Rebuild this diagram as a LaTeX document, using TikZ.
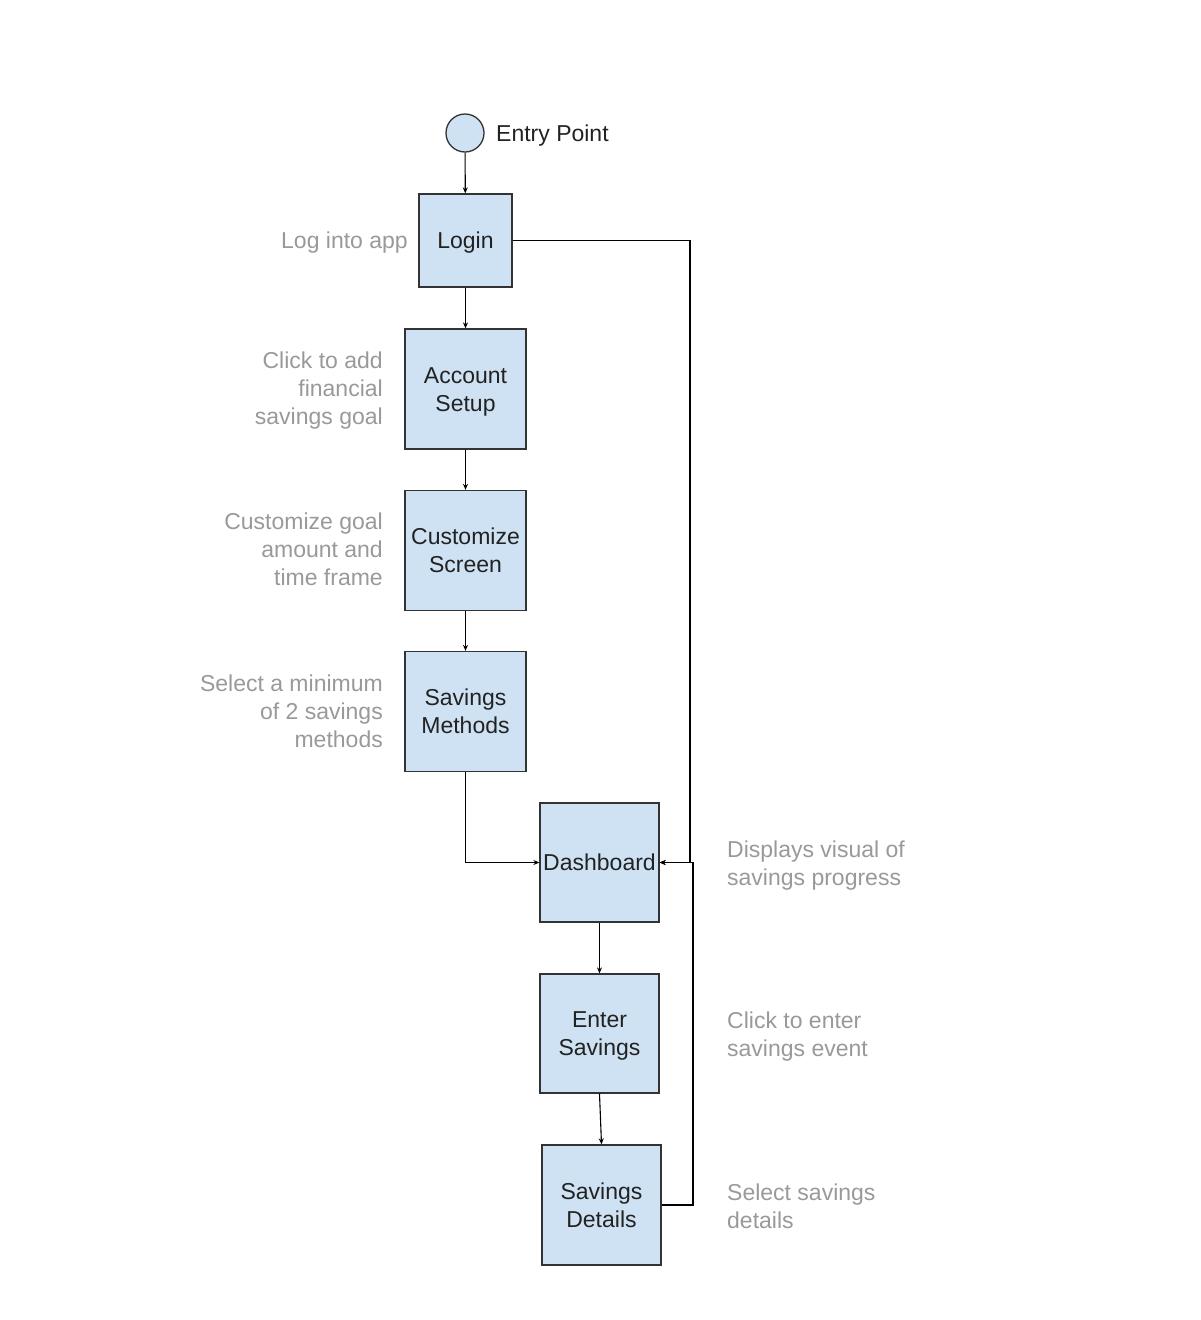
\documentclass[tikz,border=0pt]{standalone}
\usepackage{fontspec}
\setmainfont{Liberation Sans}
\usetikzlibrary{arrows.meta}
\definecolor{boxfill}{HTML}{CFE2F3}
\definecolor{boxline}{HTML}{333333}
\definecolor{notegray}{HTML}{999999}
\definecolor{boxtext}{HTML}{222222}
% fixed line box so every label is centred on its cap height
\newcommand\lnstrut{\rule[-4.5pt]{0pt}{25.5pt}}
\begin{document}
\begin{tikzpicture}[x=1pt,y=-1pt,
  every node/.style={font=\fontsize{23}{28}\selectfont},
  stepbox/.style={draw=boxline, line width=1.3pt, fill=boxfill, inner sep=0pt,
    minimum width=121pt, minimum height=120pt, align=center, text=boxtext},
  note/.style={text=notegray, inner sep=0pt},
  link/.style={draw=black, line width=1.1pt, -{Stealth[length=6pt,width=5pt]}}]
  \useasboundingbox (0,0) rectangle (1200,1320);

  % start marker
  \node[circle, draw=boxline, line width=1.3pt, fill=boxfill, minimum size=38pt, inner sep=0pt] (entry) at (465,133) {};
  \node[anchor=west, inner sep=0pt, text=boxtext] (entrylbl) at (496,133) {\lnstrut Entry Point};

  % main flow
  \node[stepbox, minimum width=93pt, minimum height=93pt] (login) at (465.5,240.5) {\lnstrut Login};
  \node[stepbox] (setup) at (465.5,389) {\lnstrut Account\\Setup\lnstrut};
  \node[stepbox] (custom) at (465.5,550.5) {\lnstrut Customize\\Screen\lnstrut};
  \node[stepbox] (methods) at (465.5,711.5) {\lnstrut Savings\\Methods\lnstrut};
  \node[stepbox, minimum width=119pt, minimum height=119pt] (dash) at (599.5,862.5) {\lnstrut Dashboard};
  \node[stepbox, minimum width=119pt, minimum height=119pt] (enter) at (599.5,1033.5) {\lnstrut Enter\\Savings\lnstrut};
  \node[stepbox, minimum width=119pt, minimum height=120pt] (details) at (601.5,1205) {\lnstrut Savings\\Details\lnstrut};

  % side notes
  \node[note, anchor=east] (n1) at (408,240) {\lnstrut Log into app};
  \node[note, anchor=east, align=right] (n2) at (383,388) {\lnstrut Click to add\\financial\\savings goal\lnstrut};
  \node[note, anchor=east, align=right] (n3) at (383,549) {\lnstrut Customize goal\\amount and\\time frame\lnstrut};
  \node[note, anchor=east, align=right] (n4) at (383,711) {\lnstrut Select a minimum\\of 2 savings\\methods\lnstrut};
  \node[note, anchor=west, align=left] (n5) at (727,863) {\lnstrut Displays visual of\\savings progress\lnstrut};
  \node[note, anchor=west, align=left] (n6) at (727,1034) {\lnstrut Click to enter\\savings event\lnstrut};
  \node[note, anchor=west, align=left] (n7) at (727,1206) {\lnstrut Select savings\\details\lnstrut};

  % connectors
  \draw[link] (entry) -- (login);
  \draw[link] (login) -- (setup);
  \draw[link] (setup) -- (custom);
  \draw[link] (custom) -- (methods);
  \draw[link] (methods.south) |- (dash.west);
  \draw[link] (dash) -- (enter);
  \draw[link] (enter.south) -- (details.north);

  % return paths into the dashboard
  \coordinate (loopA) at (690,862.5);
  \coordinate (loopB) at (693,862.5);
  \draw[link] (login.east) -| (loopA) -- (dash.east);
  \draw[link] (details.east) -| (loopB) -- (dash.east);
\end{tikzpicture}
\end{document}
